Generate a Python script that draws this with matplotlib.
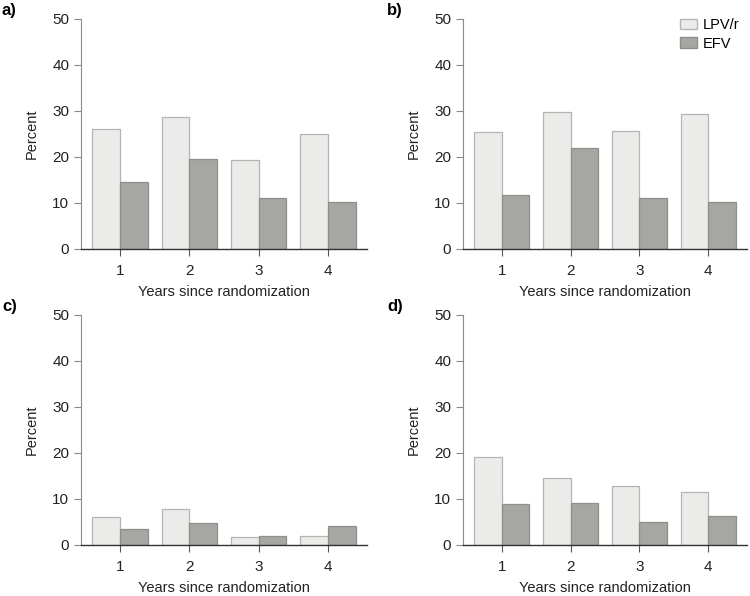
import numpy as np
import matplotlib.pyplot as plt
from matplotlib.patches import Patch

plt.rcParams['font.family'] = ['Liberation Sans', 'DejaVu Sans']

# ── Data ─────────────────────────────────────────────
years = [1, 2, 3, 4]
panel_labels = ["a)", "b)", "c)", "d)"]
lpv_a = [26.1, 28.6, 19.3, 25.0]
efv_a = [14.6, 19.6, 11.0, 10.3]
lpv_b = [25.4, 29.8, 25.7, 29.4]
efv_b = [11.8, 21.9, 11.0, 10.3]
lpv_c = [6.1, 7.9, 1.8, 2.0]
efv_c = [3.5, 4.7, 2.0, 4.1]
lpv_d = [19.2, 14.5, 12.9, 11.6]
efv_d = [9.0, 9.2, 5.0, 6.2]
series = [(lpv_a, efv_a), (lpv_b, efv_b), (lpv_c, efv_c), (lpv_d, efv_d)]

LPV_COL, LPV_EDGE = "#ebecea", "#b4b4b2"
EFV_COL, EFV_EDGE = "#a6a6a2", "#8e8e8a"
W = 0.4
FS = 10.5

fig = plt.figure(figsize=(7.5, 5.96), dpi=100)
W_PX, H_PX = 750, 596
# axes boxes in pixels: left, top, right, bottom
boxes = [(81, 19, 367, 249), (463, 19, 747, 249),
         (81, 315, 367, 545), (463, 315, 747, 545)]
label_pos = [(2, 10), (387, 10), (2, 307), (387, 307)]

for i, ((l, t, r, b), (lpv, efv)) in enumerate(zip(boxes, series)):
    ax = fig.add_axes([l / W_PX, 1 - b / H_PX, (r - l) / W_PX, (b - t) / H_PX])
    x = np.array(years)
    ax.bar(x - W / 2, lpv, W, color=LPV_COL, edgecolor=LPV_EDGE, linewidth=0.9)
    ax.bar(x + W / 2, efv, W, color=EFV_COL, edgecolor=EFV_EDGE, linewidth=0.9)
    ax.set_xlim(0.435, 4.565)
    ax.set_ylim(0, 50)
    ax.set_yticks([0, 10, 20, 30, 40, 50])
    ax.set_xticks(years)
    for s in ["top", "right"]:
        ax.spines[s].set_visible(False)
    ax.spines["left"].set_color("#8a8a8a")
    ax.spines["left"].set_linewidth(0.8)
    ax.spines["bottom"].set_color("#333333")
    ax.spines["bottom"].set_linewidth(1.0)
    ax.tick_params(axis="y", colors="#8a8a8a", labelcolor="#222222",
                   labelsize=FS + 0.5, length=5, width=0.8)
    ax.tick_params(axis="x", colors="#555555", labelcolor="#222222",
                   labelsize=FS + 0.5, length=5, width=0.8, pad=6)
    ax.set_ylabel("Percent", fontsize=FS, color="#222222", labelpad=10)
    ax.set_xlabel("Years since randomization", fontsize=FS, color="#222222", labelpad=5)
    fig.text(label_pos[i][0] / W_PX, 1 - label_pos[i][1] / H_PX, panel_labels[i],
             fontsize=12, fontweight="bold", va="center", ha="left")
    if i == 1:
        handles = [Patch(facecolor=LPV_COL, edgecolor=LPV_EDGE, label="LPV/r"),
                   Patch(facecolor=EFV_COL, edgecolor=EFV_EDGE, label="EFV")]
        ax.legend(handles=handles, loc="upper right", frameon=False, fontsize=FS,
                  handlelength=1.2, handleheight=0.7, handletextpad=0.4,
                  labelspacing=0.3, bbox_to_anchor=(1.02, 1.06))

fig.savefig("out.png", dpi=100)
